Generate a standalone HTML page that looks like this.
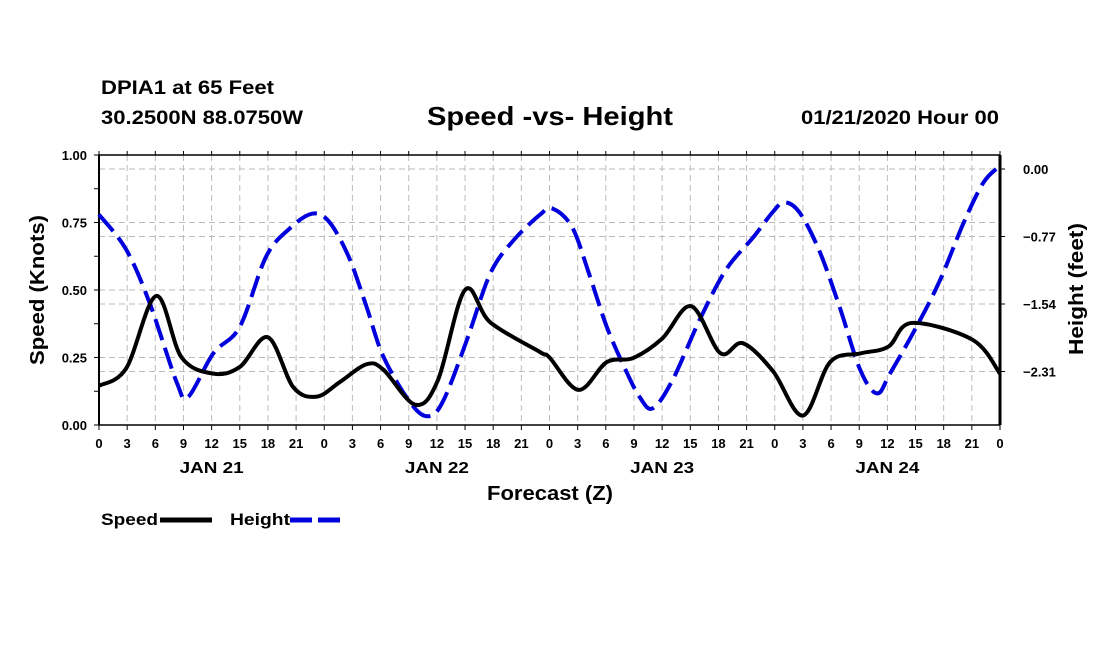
<!DOCTYPE html>
<html><head><meta charset="utf-8"><style>
body{margin:0;background:#fff;width:1100px;height:650px;overflow:hidden}
svg text{font-family:"Liberation Sans",Arial,sans-serif;font-weight:bold;fill:#000}
</style></head><body>
<svg id="chart" width="1100" height="650" viewBox="0 0 1100 650" xmlns="http://www.w3.org/2000/svg">
<text x="101" y="94" font-size="19" textLength="173" lengthAdjust="spacingAndGlyphs">DPIA1 at 65 Feet</text>
<text x="101" y="124" font-size="19" textLength="202" lengthAdjust="spacingAndGlyphs">30.2500N 88.0750W</text>
<text x="427" y="125" font-size="26" textLength="246" lengthAdjust="spacingAndGlyphs">Speed -vs- Height</text>
<text x="801" y="124" font-size="19" textLength="198" lengthAdjust="spacingAndGlyphs">01/21/2020 Hour 00</text>
<g id="grid"></g><g id="axes"></g><g id="series"></g>
<text x="487" y="500" font-size="20" textLength="126" lengthAdjust="spacingAndGlyphs">Forecast (Z)</text>
<text transform="translate(44,365) rotate(-90)" font-size="20" textLength="150" lengthAdjust="spacingAndGlyphs">Speed (Knots)</text>
<text transform="translate(1083,355) rotate(-90)" font-size="20" textLength="132" lengthAdjust="spacingAndGlyphs">Height (feet)</text>
<g>
<text x="101" y="525" font-size="17" textLength="57" lengthAdjust="spacingAndGlyphs">Speed</text>
<line x1="160" y1="520" x2="212" y2="520" stroke="#000" stroke-width="5"/>
<text x="230" y="525" font-size="17" textLength="60" lengthAdjust="spacingAndGlyphs">Height</text>
<line x1="290" y1="520" x2="342" y2="520" stroke="#0000dd" stroke-width="5" stroke-dasharray="22,6"/>
</g>
</svg>
<script>
const speedHours=[0,2.9,6.1,8.8,12.2,15,18,20.7,23.2,25.7,28.5,30.3,33.7,36.1,39,41.7,47,48,51.1,54.1,56.9,60,63.1,66.2,68.6,71.8,75,77.9,81.1,84.1,86.6,93.1,96];
const speedValues=[0.145,0.21,0.478,0.25,0.19,0.215,0.325,0.14,0.105,0.16,0.225,0.205,0.075,0.165,0.5,0.38,0.27,0.25,0.13,0.233,0.248,0.32,0.44,0.266,0.303,0.2,0.035,0.233,0.265,0.29,0.378,0.315,0.19];
const heightHours=[0,2.9,5.4,8.3,9.5,12.2,15,17.8,20.3,22.7,24.5,26.6,28.5,30.3,33.2,35.1,36.7,39.2,41.7,44.2,47,48.3,50.4,52.2,54.1,56.1,57.6,59,61.1,64,66.8,69.7,71.8,73,74.6,76.7,78.9,81.1,82.9,84.3,87.1,89.6,92.1,94.2,95.8];
const heightValues=[-0.52,-0.92,-1.53,-2.44,-2.6,-2.1,-1.8,-1.0,-0.68,-0.51,-0.6,-1.0,-1.57,-2.14,-2.67,-2.82,-2.64,-1.95,-1.19,-0.81,-0.52,-0.45,-0.66,-1.19,-1.8,-2.29,-2.6,-2.73,-2.41,-1.72,-1.15,-0.78,-0.49,-0.38,-0.49,-0.92,-1.57,-2.29,-2.56,-2.33,-1.8,-1.27,-0.62,-0.16,0.02];
const xTickLabels=["0","3","6","9","12","15","18","21"];
const dayLabels=["JAN 21","JAN 22","JAN 23","JAN 24"];
const speedTicks=[0,0.25,0.5,0.75,1.0];
const heightTicks=[0,-0.77,-1.54,-2.31];
const X0=99,X1=1000,Y0=425,Y1=155;
const xs=h=>X0+(X1-X0)*h/96;
const ys=v=>Y0-(Y0-Y1)*v;
const yh=v=>169-v*(67.5/0.77);
const NS="http://www.w3.org/2000/svg";
function mk(parent,tag,attrs){const e=document.createElementNS(NS,tag);for(const k in attrs)e.setAttribute(k,attrs[k]);parent.appendChild(e);return e;}
const grid=document.getElementById('grid'),axes=document.getElementById('axes'),series=document.getElementById('series');
for(let h=3;h<96;h+=3){const l=mk(grid,'line',{x1:xs(h),x2:xs(h),y1:Y1,y2:Y0,stroke:'#bbb','stroke-dasharray':'6,4'});

}
speedTicks.slice(1,4).forEach(v=>{const l=mk(grid,'line',{x1:X0,x2:X1,y1:ys(v),y2:ys(v),stroke:'#bbb','stroke-dasharray':'6,4'});

});
heightTicks.forEach(v=>{const l=mk(grid,'line',{x1:X0,x2:X1,y1:yh(v),y2:yh(v),stroke:'#bbb','stroke-dasharray':'6,4'});

});
mk(axes,'line',{x1:X0,x2:X1,y1:Y1,y2:Y1,stroke:'#000','stroke-width':1.5});
mk(axes,'line',{x1:X0,x2:X1,y1:Y0,y2:Y0,stroke:'#000','stroke-width':1.5});
mk(axes,'line',{x1:X0,x2:X0,y1:Y1,y2:Y0,stroke:'#000','stroke-width':2});
mk(axes,'line',{x1:X1,x2:X1,y1:Y1,y2:Y0,stroke:'#000','stroke-width':3});
for(let h=0;h<=96;h+=3){const x=xs(h);
mk(axes,'line',{x1:x,x2:x,y1:Y0,y2:Y0+5,stroke:'#000'});mk(axes,'line',{x1:x,x2:x,y1:Y1,y2:Y1-4,stroke:'#000'});
const t=mk(axes,'text',{x:x,y:448,'font-size':13,'text-anchor':'middle'});t.textContent=xTickLabels[(h/3)%8];

}
dayLabels.forEach((d,i)=>{const t=mk(axes,'text',{x:xs(12+24*i)-32,y:473,'font-size':16,textLength:64,lengthAdjust:'spacingAndGlyphs'});t.textContent=d;

});
for(let v=0;v<=1.0001;v+=0.125){mk(axes,'line',{x1:X0-5,x2:X0,y1:ys(v),y2:ys(v),stroke:'#000'});}
speedTicks.forEach(v=>{const t=mk(axes,'text',{x:87,y:ys(v)+5,'font-size':13,'text-anchor':'end'});t.textContent=v.toFixed(2);

});
heightTicks.forEach(v=>{mk(axes,'line',{x1:X1,x2:X1+5,y1:yh(v),y2:yh(v),stroke:'#000'});
const t=mk(axes,'text',{x:1023,y:yh(v)+5,'font-size':13});t.textContent=v.toFixed(2).replace('-','\u2212');

});
function smooth(pts){let d='M'+pts[0][0]+','+pts[0][1];
for(let i=0;i<pts.length-1;i++){const p0=pts[Math.max(0,i-1)],p1=pts[i],p2=pts[i+1],p3=pts[Math.min(pts.length-1,i+2)];
const c1=[p1[0]+(p2[0]-p0[0])/6,p1[1]+(p2[1]-p0[1])/6],c2=[p2[0]-(p3[0]-p1[0])/6,p2[1]-(p3[1]-p1[1])/6];
d+=' C'+c1+' '+c2+' '+p2;}return d;}
const hp=mk(series,'path',{d:smooth(heightHours.map((h,i)=>[xs(h),yh(heightValues[i])])),fill:'none',stroke:'#0000dd','stroke-width':4,'stroke-dasharray':'22,8'});


const sp=mk(series,'path',{d:smooth(speedHours.map((h,i)=>[xs(h),ys(speedValues[i])])),fill:'none',stroke:'#000','stroke-width':4});


</script>
</body></html>
